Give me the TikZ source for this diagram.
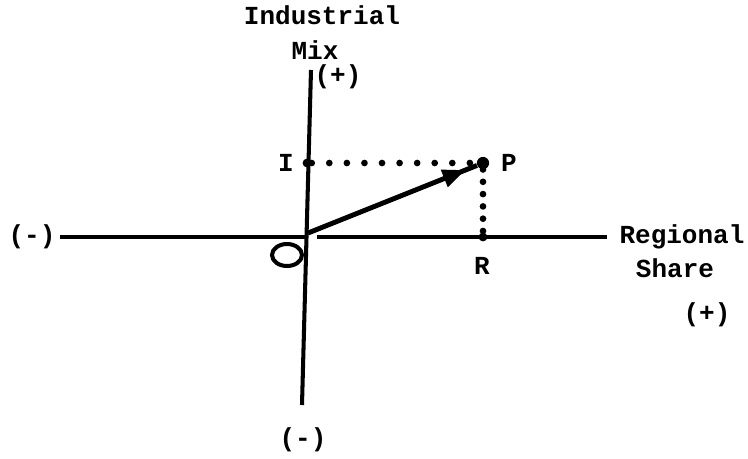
\documentclass[tikz,border=0pt]{standalone}
\usepackage{fontspec}
\setmainfont{Liberation Mono}
\usetikzlibrary{arrows.meta,calc,shapes.geometric}

\begin{document}
\begin{tikzpicture}[x=0.02cm, y=0.02cm, font=\fontsize{14.8}{17}\selectfont\bfseries, axis/.style={line width=2.3pt}, proj/.style={line width=3.8pt, line cap=round, dash pattern=on 0pt off 10pt}, vec/.style={line width=2.8pt, -{Triangle[length=13pt,width=10pt]}}, pt/.style={circle, fill, inner sep=0pt, minimum size=5pt}]
\useasboundingbox (-306,-221) rectangle (442,237);
\coordinate (o) at (0,0);
\coordinate (top) at (5,167);
\coordinate (bot) at (-4,-168);
\coordinate (west) at (-246,0);
\coordinate (gap) at (11,0);
\coordinate (east) at (301,0);
\node[pt] (i) at (1,74) {};
\node[pt] (r) at (177,0) {};
\node[pt, minimum size=7pt] (p) at (177,74) {};
\coordinate (start) at (2,4);
\coordinate (head) at ($(start)!0.9!(p)$);
\node[draw, ellipse, line width=2.3pt, minimum width=0.6cm, minimum height=0.44cm] (loop) at (-19,-18) {};
% labels
\node (ind) at (16,222) {Industrial};
\node (mix) at (9,187) {Mix};
\node (yplus) at (32,160) {(+)};
\node (xminus) at (-274,0) {(-)};
\node (reg) at (376,0) {Regional};
\node (share) at (369,-31) {Share};
\node (xplus) at (401,-78) {(+)};
\node (yminus) at (-3,-203) {(-)};
\node (il) at (-20,74) {I};
\node (pl) at (203,74) {P};
\node (rl) at (176,-29) {R};
% axes and vector
\draw[axis] (bot) -- (top);
\draw[axis] (west) -- (o);
\draw[axis] (gap) -- (east);
\draw[proj] (i) -- (p);
\draw[proj, dash pattern=on 0pt off 7pt] (p) -- (r);
\draw[vec] (start) -- (head);
\draw[line width=2.8pt] ($(start)!0.85!(p)$) -- (p);
\end{tikzpicture}
\end{document}
